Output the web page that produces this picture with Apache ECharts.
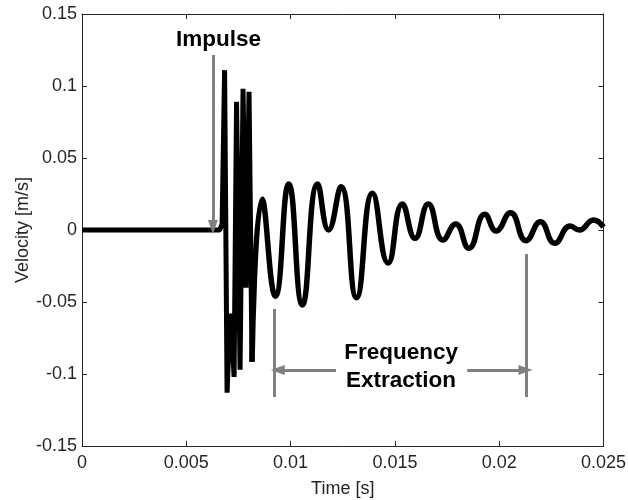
<!DOCTYPE html>
<html>
<head>
<meta charset="utf-8">
<script src="https://cdn.jsdelivr.net/npm/echarts@6/dist/echarts.min.js"></script>
<style>
  html, body { margin: 0; padding: 0; background: #fff; }
  #chart { width: 628px; height: 500px; }
</style>
</head>
<body>
<div id="chart"></div>
<script>
// flat part + impulse spikes (straight segments)
const impulseTime = [0, 0.006597, 0.006716, 0.006836, 0.006955, 0.007098, 0.00717,
  0.00729, 0.007409, 0.007577, 0.00772, 0.007863, 0.008007, 0.00815];
const impulseVel = [0, 0, 0.004, 0.111, -0.113, -0.058, -0.066,
  -0.102, 0.089, -0.097, 0.098, -0.04, 0.096, -0.0915];

// decaying oscillation, peaks and troughs
const decayTime = [0.00815, 0.008638, 0.009273, 0.00991, 0.010564, 0.011295, 0.011822,
  0.012414, 0.01316, 0.013925, 0.014675, 0.015359, 0.015966, 0.016602, 0.017304,
  0.017912, 0.018547, 0.019312, 0.019852, 0.020541, 0.021287, 0.021975, 0.022658,
  0.023408, 0.023839, 0.024522, 0.025];
const decayVel = [-0.0915, 0.0213, -0.046, 0.032, -0.052, 0.032, 0.0,
  0.030, -0.047, 0.0255, -0.023, 0.018, -0.0058, 0.018, -0.007,
  0.0042, -0.0127, 0.0109, -0.0007, 0.012, -0.0074, 0.0058, -0.0092,
  0.0028, 0.0, 0.007, 0.002];

const xTickLabels = ['0', '0.005', '0.01', '0.015', '0.02', '0.025'];
const yTickLabels = ['-0.15', '-0.1', '-0.05', '0', '0.05', '0.1', '0.15'];

const axisColor = '#262626';
const grey = '#808080';
const fontFamily = '"Liberation Sans", Arial, sans-serif';

const zip = (xs, ys) => xs.map((x, i) => [x, ys[i]]);

const chart = echarts.init(document.getElementById('chart'));

// 框线 (MATLAB box on)
const boxAxis = {
  axisLine: { show: true, onZero: false, lineStyle: { color: axisColor, width: 1 } },
  axisTick: { show: true, inside: true, length: 5, lineStyle: { color: axisColor } },
  splitLine: { show: false }
};

function arrowLine(x1, y1, x2, y2) {
  return [
    { coord: [x1, y1], symbol: 'none' },
    { coord: [x2, y2], symbol: 'triangle', symbolSize: [10, 14] }
  ];
}
function plainLine(x1, y1, x2, y2) {
  return [
    { coord: [x1, y1], symbol: 'none' },
    { coord: [x2, y2], symbol: 'none' }
  ];
}
function textPoint(x, y, text) {
  return {
    coord: [x, y],
    symbolSize: 0,
    label: {
      show: true,
      position: 'inside',
      formatter: text,
      color: '#000',
      fontWeight: 'bold',
      fontSize: 22.5,
      fontFamily: fontFamily
    }
  };
}

const option = {
  animation: false,
  backgroundColor: '#fff',
  grid: { left: 82, right: 24.5, top: 14, bottom: 54, outerBoundsMode: 'none', containLabel: false },
  xAxis: [
    {
      type: 'value',
      min: 0,
      max: 0.025,
      interval: 0.005,
      position: 'bottom',
      name: 'Time [s]',
      nameLocation: 'middle',
      nameGap: 34,
      nameMoveOverlap: false,
      nameTextStyle: { color: axisColor, fontSize: 18, fontFamily: fontFamily },
      axisLabel: {
        color: axisColor,
        fontSize: 18,
        fontFamily: fontFamily,
        margin: 8,
        formatter: v => xTickLabels[Math.round(v / 0.005)]
      },
      ...boxAxis
    },
    {
      type: 'value',
      min: 0,
      max: 0.025,
      interval: 0.005,
      position: 'top',
      axisLabel: { show: false },
      ...boxAxis
    }
  ],
  yAxis: [
    {
      type: 'value',
      min: -0.15,
      max: 0.15,
      interval: 0.05,
      position: 'left',
      name: 'Velocity [m/s]',
      nameLocation: 'middle',
      nameGap: 50,
      nameMoveOverlap: false,
      nameTextStyle: { color: axisColor, fontSize: 18, fontFamily: fontFamily },
      axisLabel: {
        color: axisColor,
        fontSize: 18,
        fontFamily: fontFamily,
        margin: 5,
        formatter: v => yTickLabels[Math.round((v + 0.15) / 0.05)]
      },
      ...boxAxis
    },
    {
      type: 'value',
      min: -0.15,
      max: 0.15,
      interval: 0.05,
      position: 'right',
      axisLabel: { show: false },
      ...boxAxis
    }
  ],
  series: [
    {
      type: 'line',
      data: zip(impulseTime, impulseVel),
      showSymbol: false,
      smooth: false,
      lineStyle: { color: '#000', width: 5 },
      z: 3,
      markLine: {
        silent: true,
        animation: false,
        label: { show: false },
        lineStyle: { color: grey, width: 3, type: 'solid' },
        data: [
          arrowLine(0.006276, 0.1215, 0.006276, 0.0021),
          plainLine(0.009226, -0.0549, 0.009226, -0.116),
          plainLine(0.021305, -0.0167, 0.021305, -0.116),
          arrowLine(0.012175, -0.0972, 0.009384, -0.0972),
          arrowLine(0.018466, -0.0972, 0.021257, -0.0972)
        ]
      },
      markPoint: {
        silent: true,
        animation: false,
        data: [
          textPoint(0.006549, 0.132, 'Impulse'),
          textPoint(0.015296, -0.0854, 'Frequency'),
          textPoint(0.015296, -0.1049, 'Extraction')
        ]
      }
    },
    {
      type: 'line',
      data: zip(decayTime, decayVel),
      showSymbol: false,
      smooth: 0.5,
      lineStyle: { color: '#000', width: 5.5 },
      z: 3
    }
  ]
};

chart.setOption(option);
</script>
</body>
</html>
